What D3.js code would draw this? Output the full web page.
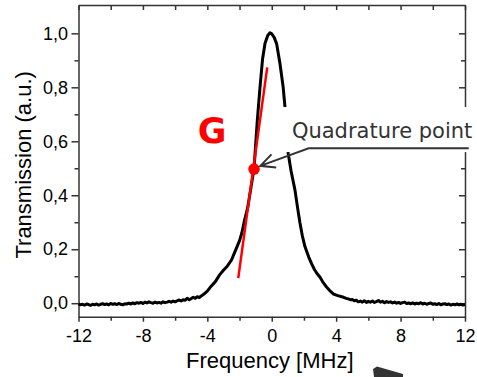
<!DOCTYPE html>
<html>
<head>
<meta charset="utf-8">
<script src="https://cdn.jsdelivr.net/npm/d3@7"></script>
<style>
  body { margin: 0; background: #fff; }
  .axis path, .axis line { stroke: #333; stroke-width: 1.5; }
  .axis text { font-family: Arial, "Liberation Sans", sans-serif; font-size: 18px; fill: #000; }
  .axis-label { font-family: Arial, "Liberation Sans", sans-serif; font-size: 22px; fill: #000; }
</style>
</head>
<body>
<svg id="chart"></svg>
<script>
const freq = [-12, -11.875, -11.75, -11.625, -11.5, -11.375, -11.25, -11.125, -11, -10.875, -10.75, -10.625, -10.5,
  -10.375, -10.25, -10.125, -10, -9.875, -9.75, -9.625, -9.5, -9.375, -9.25, -9.125, -9, -8.875, -8.75, -8.625, -8.5,
  -8.375, -8.25, -8.125, -8, -7.875, -7.75, -7.625, -7.5, -7.375, -7.25, -7.125, -7, -6.875, -6.75, -6.625, -6.5,
  -6.375, -6.25, -6.125, -6, -5.875, -5.75, -5.625, -5.5, -5.375, -5.25, -5.125, -5, -4.875, -4.75, -4.625, -4.5,
  -4.375, -4.25, -4, -3.75, -3.5, -3.25, -3, -2.75, -2.5, -2.25, -2, -1.85, -1.7, -1.5, -1.3, -1.1, -0.9, -0.73,
  -0.57, -0.42, -0.25, -0.11, 0, 0.15, 0.3, 0.51, 0.71, 0.82, 0.92, 1.02, 1.2, 1.44, 1.6, 1.75, 1.9, 2.06, 2.29,
  2.48, 2.65, 2.81, 3, 3.2, 3.4, 3.6, 3.84, 4.1, 4.46, 4.625, 4.75, 4.875, 5, 5.125, 5.25, 5.375, 5.5, 5.625, 5.75,
  5.875, 6, 6.125, 6.25, 6.375, 6.5, 6.625, 6.75, 6.875, 7, 7.125, 7.25, 7.375, 7.5, 7.625, 7.75, 7.875, 8, 8.125,
  8.25, 8.375, 8.5, 8.625, 8.75, 8.875, 9, 9.125, 9.25, 9.375, 9.5, 9.625, 9.75, 9.875, 10, 10.125, 10.25, 10.375,
  10.5, 10.625, 10.75, 10.875, 11, 11.125, 11.25, 11.375, 11.5, 11.625, 11.75, 11.875, 12];
const trans = [-0.003, -0.006, -0.004, -0.007, -0.003, -0.005, -0.008, -0.004, -0.006, -0.003, -0.007, -0.004,
  -0.002, -0.005, -0.003, -0.006, -0.001, -0.004, -0.002, -0.005, -0.001, -0.004, -0.006, -0.002, -0.003, 0.000,
  -0.003, 0.001, -0.002, 0.002, 0.000, 0.003, -0.001, 0.004, 0.001, 0.005, 0.002, 0.000, 0.004, 0.001, 0.003, 0.000,
  0.005, 0.002, 0.004, 0.007, 0.004, 0.008, 0.005, 0.009, 0.012, 0.008, 0.013, 0.011, 0.018, 0.013, 0.017, 0.022,
  0.018, 0.024, 0.021, 0.027, 0.032, 0.045, 0.064, 0.080, 0.104, 0.122, 0.138, 0.160, 0.196, 0.232, 0.262, 0.305,
  0.352, 0.425, 0.500, 0.675, 0.800, 0.905, 0.962, 0.992, 1.002, 0.998, 0.985, 0.962, 0.888, 0.800, 0.728, 0.640,
  0.556, 0.490, 0.420, 0.355, 0.298, 0.250, 0.210, 0.172, 0.146, 0.125, 0.110, 0.096, 0.076, 0.060, 0.047, 0.034,
  0.028, 0.022, 0.018, 0.016, 0.013, 0.014, 0.009, 0.011, 0.005, 0.008, 0.004, 0.009, 0.003, 0.007, 0.004, 0.008,
  0.003, 0.006, 0.010, 0.004, 0.007, 0.002, 0.006, 0.003, 0.005, 0.001, 0.004, 0.000, 0.003, -0.001, 0.002, 0.004,
  -0.001, 0.001, -0.002, 0.001, -0.003, 0.000, -0.002, 0.002, -0.003, 0.000, -0.004, -0.001, 0.001, -0.004, -0.002,
  -0.005, -0.001, -0.006, -0.003, -0.002, -0.005, -0.003, -0.007, -0.004, -0.006, -0.003, -0.006, -0.004, -0.007,
  -0.005];

// tangent (slope G) and quadrature point
const fitFreq = [-2.08, -0.28];
const fitTrans = [0.093, 0.874];
const quadPoint = [-1.1, 0.497];

const xTicks = [-12, -8, -4, 0, 4, 8, 12];
const xMinorTicks = [-10, -6, -2, 2, 6, 10];
const yTicks = [0, 0.2, 0.4, 0.6, 0.8, 1.0];
const yTickLabels = ['0,0', '0,2', '0,4', '0,6', '0,8', '1,0'];
const yMinorTicks = [0.1, 0.3, 0.5, 0.7, 0.9];

class TransmissionChart {

  constructor(_config, _data) {
    this.config = {
      parentElement: _config.parentElement,
      containerWidth: _config.containerWidth || 477,
      containerHeight: _config.containerHeight || 377,
      margin: { top: 5, right: 12, bottom: 60.3, left: 78.5 }
    }
    this.data = _data;
    this.initVis();
  }

  initVis() {
    let vis = this;

    vis.width = vis.config.containerWidth - vis.config.margin.left - vis.config.margin.right;
    vis.height = vis.config.containerHeight - vis.config.margin.top - vis.config.margin.bottom;

    vis.xScale = d3.scaleLinear()
        .domain([-12, 12])
        .range([0, vis.width]);

    vis.yScale = d3.scaleLinear()
        .domain([-0.05, 1.105])
        .range([vis.height, 0]);

    vis.svg = d3.select(vis.config.parentElement)
        .attr('width', vis.config.containerWidth)
        .attr('height', vis.config.containerHeight);

    vis.chart = vis.svg.append('g')
        .attr('transform', `translate(${vis.config.margin.left},${vis.config.margin.top})`);

    // bottom axis (ticks out) + minor ticks
    vis.chart.append('g')
        .attr('class', 'axis x-axis')
        .attr('transform', `translate(0,${vis.height})`)
        .call(d3.axisBottom(vis.xScale).tickValues(xTicks).tickSize(5).tickSizeOuter(0).tickPadding(8)
          .tickFormat(d => String(d)));
    vis.chart.append('g')
        .attr('class', 'axis x-minor')
        .attr('transform', `translate(0,${vis.height})`)
        .call(d3.axisBottom(vis.xScale).tickValues(xMinorTicks).tickSize(4).tickFormat(''))
        .call(g => g.select('.domain').remove());

    // left axis (ticks out) + minor ticks
    vis.chart.append('g')
        .attr('class', 'axis y-axis')
        .call(d3.axisLeft(vis.yScale).tickValues(yTicks).tickSize(7).tickSizeOuter(0).tickPadding(3.5)
          .tickFormat((d, i) => yTickLabels[i]));
    vis.chart.append('g')
        .attr('class', 'axis y-minor')
        .call(d3.axisLeft(vis.yScale).tickValues(yMinorTicks).tickSize(4).tickFormat(''))
        .call(g => g.select('.domain').remove());

    // mirror axes, ticks pointing in
    vis.chart.append('g')
        .attr('class', 'axis x-top')
        .call(d3.axisTop(vis.xScale).tickValues(xTicks.concat(xMinorTicks)).tickSizeInner(-5).tickSizeOuter(0).tickFormat(''));
    vis.chart.append('g')
        .attr('class', 'axis y-right')
        .attr('transform', `translate(${vis.width},0)`)
        .call(d3.axisRight(vis.yScale).tickValues(yTicks).tickSizeInner(-6).tickSizeOuter(0).tickFormat(''));
    vis.chart.append('g')
        .attr('class', 'axis y-right-minor')
        .attr('transform', `translate(${vis.width},0)`)
        .call(d3.axisRight(vis.yScale).tickValues(yMinorTicks).tickSizeInner(-4).tickFormat(''))
        .call(g => g.select('.domain').remove());

    // axis titles
    vis.chart.append('text')
        .attr('class', 'axis-label')
        .attr('x', vis.xScale(0) - 2)
        .attr('y', vis.height + 51.5)
        .style('text-anchor', 'middle')
        .text('Frequency [MHz]');

    vis.chart.append('text')
        .attr('class', 'axis-label')
        .attr('transform', `translate(-47.5,${vis.height / 2 + 4}) rotate(-90)`)
        .style('text-anchor', 'middle')
        .text('Transmission (a.u.)');

    vis.updateVis();
  }

  updateVis() {
    let vis = this;
    vis.points = vis.data.freq.map((f, i) => ({ f: f, t: vis.data.trans[i] }));
    vis.fit = fitFreq.map((f, i) => ({ f: f, t: fitTrans[i] }));
    vis.renderVis();
  }

  renderVis() {
    let vis = this;
    let x = vis.xScale, y = vis.yScale;

    let line = d3.line()
        .x(d => x(d.f))
        .y(d => y(d.t));

    vis.chart.append('path')
        .datum(vis.points)
        .attr('fill', 'none')
        .attr('stroke', '#000')
        .attr('stroke-width', 3)
        .attr('stroke-linejoin', 'round')
        .attr('d', line);

    vis.chart.append('path')
        .datum(vis.fit)
        .attr('fill', 'none')
        .attr('stroke', '#f00')
        .attr('stroke-width', 2.5)
        .attr('d', line);

    vis.chart.append('circle')
        .attr('cx', x(quadPoint[0]))
        .attr('cy', y(quadPoint[1]))
        .attr('r', 5.8)
        .attr('fill', '#f00');

    // label box hides the curve + frame behind it
    vis.chart.append('rect')
        .attr('x', x(0.51))
        .attr('y', y(0.727))
        .attr('width', x(13) - x(0.51))
        .attr('height', y(0.56) - y(0.727))
        .attr('fill', '#fff');

    vis.chart.append('text')
        .attr('x', x(1.25))
        .attr('y', y(0.612))
        .style('font-family', '"DejaVu Sans", Verdana, sans-serif')
        .style('font-size', '21px')
        .style('fill', '#333')
        .text('Quadrature point');

    // leader line with open arrow head
    let x0 = x(12.23), y0 = y(0.574), x1 = x(2.29), tipX = x(-0.71), tipY = y(0.509);
    let ang = Math.atan2(y0 - tipY, x1 - tipX), len = 16, spread = 0.45;
    vis.chart.append('path')
        .attr('fill', 'none')
        .attr('stroke', '#333')
        .attr('stroke-width', 2)
        .attr('d', `M${x0},${y0}L${x1},${y0}L${tipX},${tipY}` +
          `M${tipX + len * Math.cos(ang - spread)},${tipY + len * Math.sin(ang - spread)}L${tipX},${tipY}` +
          `L${tipX + len * Math.cos(ang + spread)},${tipY + len * Math.sin(ang + spread)}`);

    vis.chart.append('text')
        .attr('x', x(-4.6))
        .attr('y', y(0.594))
        .style('font-family', '"DejaVu Sans", Verdana, sans-serif')
        .style('font-weight', 'bold')
        .style('font-size', '35px')
        .style('fill', '#f00')
        .text('G');

    // edge of a big arrow poking in at the bottom
    vis.svg.append('path')
        .attr('fill', '#333')
        .attr('d', 'M373,369L377,366.5L403,374L403,377L374,377Z');
  }
}

new TransmissionChart({ parentElement: '#chart' }, { freq: freq, trans: trans });
</script>
</body>
</html>
